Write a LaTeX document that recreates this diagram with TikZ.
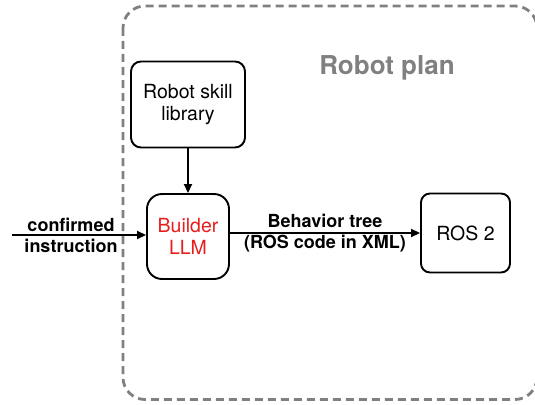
\documentclass[tikz,border=0pt]{standalone}
\usepackage{fontspec}
\setmainfont{TeX Gyre Heros}
\usetikzlibrary{arrows.meta}
\definecolor{llmred}{RGB}{232,28,28}
\definecolor{plangray}{RGB}{128,128,128}
\tikzset{
  block/.style={draw, line width=1.9pt, rounded corners=10pt, align=center, inner sep=0pt,
    font=\fontsize{19.5}{22}\selectfont},
  flow/.style={line width=1.7pt, -{Triangle[length=9pt,width=8pt]}},
  flowlabel/.style={align=center, font=\fontsize{18}{21}\selectfont\bfseries},
}
\begin{document}
\begin{tikzpicture}[x=1pt, y=-1pt]
  \useasboundingbox (0,0) rectangle (535,404);
  % dashed frame of the plan
  \draw[plangray, line width=2.8pt, dash pattern=on 8pt off 5pt, rounded corners=22pt] (123,6) rectangle (537,399.5);
  \node[text=plangray, font=\fontsize{26}{30}\selectfont\bfseries] (plan) at (387,68) {Robot plan};
  % boxes
  \node[block, minimum width=114pt, minimum height=86pt] (skill) at (188,104.5) {Robot skill\\library};
  \node[block, rounded corners=15pt, minimum width=82pt, minimum height=85pt, text=llmred] (builder) at (188,236.5) {Builder\\LLM};
  \node[block, rounded corners=9pt, minimum width=89pt, minimum height=79pt] (ros) at (465.5,233) {ROS 2};
  % input
  \coordinate (in) at (12,235);
  \node[flowlabel] (instr) at (71,235) {confirmed\\instruction};
  % arrows
  \draw[flow] (in) -- (in -| builder.west);
  \draw[flow] (skill) -- (builder);
  \draw[flow] (builder.east |- ros) -- (ros) node[midway, flowlabel] {Behavior tree\\(ROS code in XML)};
\end{tikzpicture}
\end{document}
